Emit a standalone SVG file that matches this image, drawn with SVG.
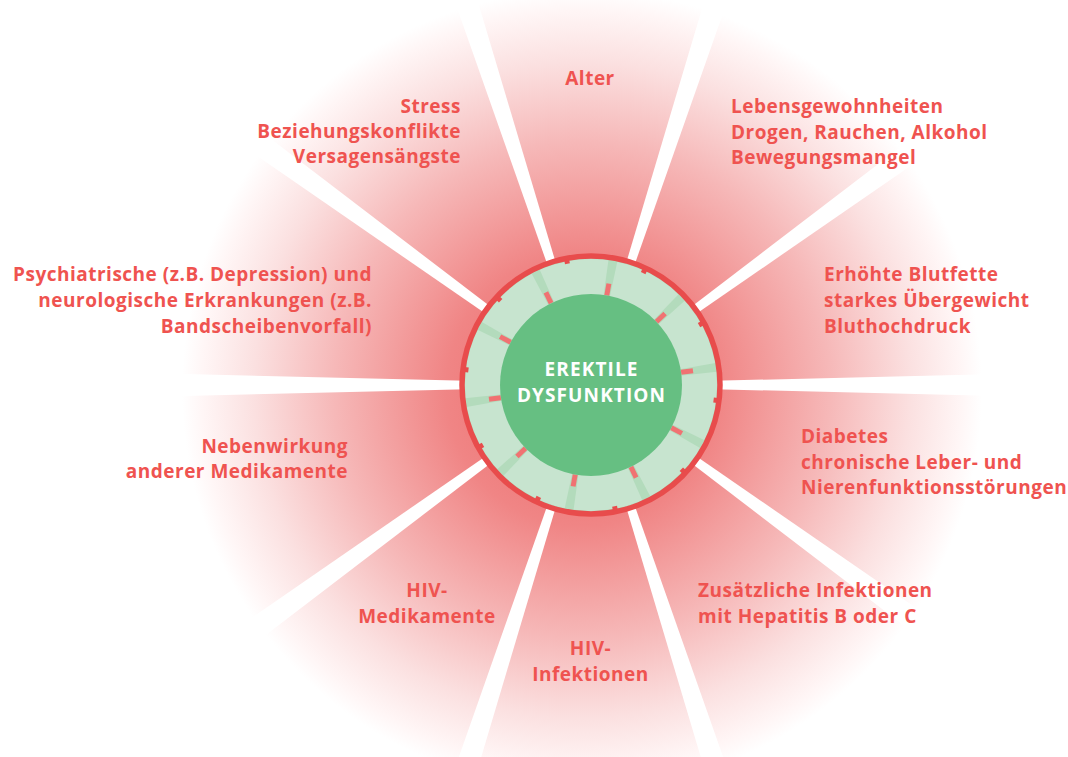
<svg xmlns="http://www.w3.org/2000/svg" width="1068" height="757" viewBox="0 0 1068 757">
  <defs>
    <radialGradient id="glow" gradientUnits="userSpaceOnUse" cx="582" cy="390" r="400">
      <stop offset="0" stop-color="#ec6666"/>
      <stop offset="0.34" stop-color="#f08585"/>
      <stop offset="0.62" stop-color="#f6b8b8"/>
      <stop offset="0.82" stop-color="#fbe0e0"/>
      <stop offset="0.95" stop-color="#fff6f6"/>
      <stop offset="1" stop-color="#ffffff"/>
    </radialGradient>
    <clipPath id="ringClip">
      <circle cx="0" cy="0" r="126"/>
    </clipPath>
    <!-- one light tile of the ring, pointing up -->
    <polygon id="tile" points="-22.0,-76.9 22.0,-76.9 36.3,-126.9 -36.3,-126.9"/>
    <!-- white ray between two sectors -->
    <polygon id="ray" points="-1.2,0 1.2,0 21,-820 -21,-820"/>
    <rect id="mark" x="-2.5" y="-103" width="5" height="12"/>
    <rect id="tab" x="-2.5" y="-127.5" width="5" height="4"/>
  </defs>
  <style>
    .lbl { font-family: "Open Sans", Lato, "Liberation Sans", sans-serif; font-weight: 700; font-size: 19px; letter-spacing: 0.5px; fill: #ef5350; font-variant-ligatures: none; }
    .core { font-family: "Open Sans", Lato, "Liberation Sans", sans-serif; font-weight: 700; font-size: 19px; letter-spacing: 1.1px; fill: #ffffff; }
    .ray { fill: #ffffff; }
    .tile { fill: #c7e4cf; }
    .mark { fill: #f07272; }
    .tab { fill: #e84c4c; }
  </style>

  <rect width="1068" height="757" fill="#ffffff"/>
  <rect width="1068" height="757" fill="url(#glow)"/>

  <!-- white rays separating the ten sectors -->
  <g id="connectors" transform="translate(591,385)">
    <use href="#ray" class="ray" transform="rotate(18)"/>
    <use href="#ray" class="ray" transform="rotate(54)"/>
    <use href="#ray" class="ray" transform="rotate(90)"/>
    <use href="#ray" class="ray" transform="rotate(126)"/>
    <use href="#ray" class="ray" transform="rotate(162)"/>
    <use href="#ray" class="ray" transform="rotate(198)"/>
    <use href="#ray" class="ray" transform="rotate(234)"/>
    <use href="#ray" class="ray" transform="rotate(270)"/>
    <use href="#ray" class="ray" transform="rotate(306)"/>
    <use href="#ray" class="ray" transform="rotate(342)"/>
  </g>

  <!-- central hub -->
  <g id="hub" transform="translate(591,385)">
    <circle r="127" fill="#b3dbbc"/>
    <g clip-path="url(#ringClip)">
      <use href="#tile" class="tile" transform="rotate(28)"/>
      <use href="#tile" class="tile" transform="rotate(64)"/>
      <use href="#tile" class="tile" transform="rotate(100)"/>
      <use href="#tile" class="tile" transform="rotate(136)"/>
      <use href="#tile" class="tile" transform="rotate(172)"/>
      <use href="#tile" class="tile" transform="rotate(208)"/>
      <use href="#tile" class="tile" transform="rotate(244)"/>
      <use href="#tile" class="tile" transform="rotate(280)"/>
      <use href="#tile" class="tile" transform="rotate(316)"/>
      <use href="#tile" class="tile" transform="rotate(352)"/>
    </g>
    <g class="mark">
      <use href="#mark" transform="rotate(10)"/>
      <use href="#mark" transform="rotate(46)"/>
      <use href="#mark" transform="rotate(82)"/>
      <use href="#mark" transform="rotate(118)"/>
      <use href="#mark" transform="rotate(154)"/>
      <use href="#mark" transform="rotate(190)"/>
      <use href="#mark" transform="rotate(226)"/>
      <use href="#mark" transform="rotate(262)"/>
      <use href="#mark" transform="rotate(298)"/>
      <use href="#mark" transform="rotate(334)"/>
    </g>
    <circle r="129" fill="none" stroke="#e84c4c" stroke-width="5.5"/>
    <g class="tab">
      <use href="#tab" transform="rotate(349)"/>
      <use href="#tab" transform="rotate(25)"/>
      <use href="#tab" transform="rotate(61)"/>
      <use href="#tab" transform="rotate(97)"/>
      <use href="#tab" transform="rotate(133)"/>
      <use href="#tab" transform="rotate(169)"/>
      <use href="#tab" transform="rotate(205)"/>
      <use href="#tab" transform="rotate(241)"/>
      <use href="#tab" transform="rotate(277)"/>
      <use href="#tab" transform="rotate(313)"/>
    </g>
    <circle r="91" fill="#66bf82"/>
    <text class="core" x="0.5" y="-9.5" text-anchor="middle">EREKTILE</text>
    <text class="core" x="0.5" y="16.5" text-anchor="middle">DYSFUNKTION</text>
  </g>

  <g id="alter">
    <text class="lbl" x="590" y="85" text-anchor="middle">Alter</text>
  </g>
  <g id="lebensgewohnheiten">
    <text class="lbl" x="731" y="113">Lebensgewohnheiten</text>
    <text class="lbl" x="731" y="139">Drogen, Rauchen, Alkohol</text>
    <text class="lbl" x="731" y="164">Bewegungsmangel</text>
  </g>
  <g id="blutfette">
    <text class="lbl" x="824" y="280.5">Erhöhte Blutfette</text>
    <text class="lbl" x="824" y="306.5">starkes Übergewicht</text>
    <text class="lbl" x="824" y="332.5">Bluthochdruck</text>
  </g>
  <g id="diabetes">
    <text class="lbl" x="801" y="442.5">Diabetes</text>
    <text class="lbl" x="801" y="468.5">chronische Leber- und</text>
    <text class="lbl" x="801" y="493.5">Nierenfunktionsstörungen</text>
  </g>
  <g id="hepatitis">
    <text class="lbl" x="698" y="597">Zusätzliche Infektionen</text>
    <text class="lbl" x="698" y="623">mit Hepatitis B oder C</text>
  </g>
  <g id="hiv-infektionen">
    <text class="lbl" x="590.5" y="655" text-anchor="middle">HIV-</text>
    <text class="lbl" x="590.5" y="681" text-anchor="middle">Infektionen</text>
  </g>
  <g id="hiv-medikamente">
    <text class="lbl" x="427" y="597" text-anchor="middle">HIV-</text>
    <text class="lbl" x="427" y="623" text-anchor="middle">Medikamente</text>
  </g>
  <g id="nebenwirkung">
    <text class="lbl" x="348" y="452.5" text-anchor="end">Nebenwirkung</text>
    <text class="lbl" x="348" y="477.5" text-anchor="end">anderer Medikamente</text>
  </g>
  <g id="psychiatrisch">
    <text class="lbl" x="372" y="280.5" text-anchor="end">Psychiatrische (z.B. Depression) und</text>
    <text class="lbl" x="372" y="306.5" text-anchor="end">neurologische Erkrankungen (z.B.</text>
    <text class="lbl" x="372" y="332.5" text-anchor="end">Bandscheibenvorfall)</text>
  </g>
  <g id="stress">
    <text class="lbl" x="461" y="112.7" text-anchor="end">Stress</text>
    <text class="lbl" x="461" y="138.3" text-anchor="end">Beziehungskonflikte</text>
    <text class="lbl" x="461" y="163.3" text-anchor="end">Versagensängste</text>
  </g>
</svg>
